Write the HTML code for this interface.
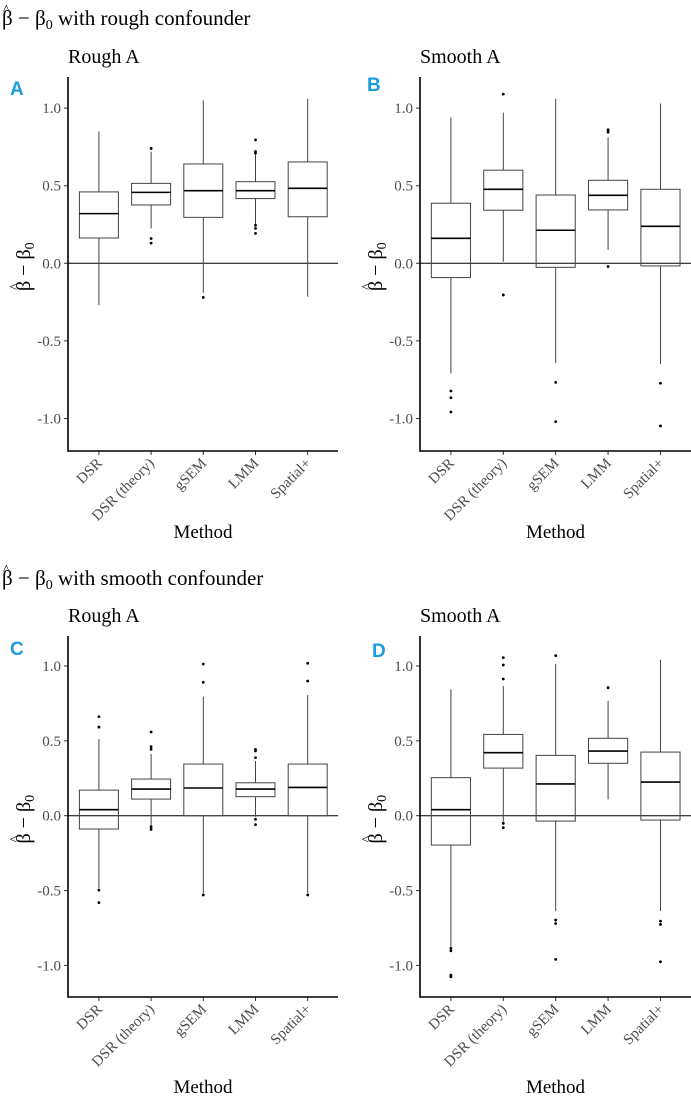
<!DOCTYPE html>
<html><head><meta charset="utf-8"><style>
html,body{margin:0;padding:0;background:#fff;}
svg{display:block;font-family:"Liberation Serif",serif;}
.lbl{font-family:"Liberation Sans",sans-serif;font-weight:bold;fill:#1b9be0;font-size:19px;}
</style></head><body>
<svg id="fig" width="691" height="1101" viewBox="0 0 691 1101" xmlns="http://www.w3.org/2000/svg">
<g>
<text x="3" y="14" font-size="14">^</text>
<text x="2" y="25" font-size="21">β − β<tspan font-size="14" dy="4">0</tspan><tspan dy="-4"> with rough confounder</tspan></text>
</g>
<g>
<text x="3" y="574" font-size="14">^</text>
<text x="2" y="585" font-size="21">β − β<tspan font-size="14" dy="4">0</tspan><tspan dy="-4"> with smooth confounder</tspan></text>
</g>
<g id="panels"></g>
</svg>
<script>
const categories = ["DSR","DSR (theory)","gSEM","LMM","Spatial+"];
const yTicks = [1.0,0.5,0.0,-0.5,-1.0];
const yTickLabels = ["1.0","0.5","0.0","-0.5","-1.0"];
// each stat: [whiskerLow, q1, median, q3, whiskerHigh]
const statsA = [[-0.27,0.163,0.32,0.46,0.85],[0.225,0.376,0.457,0.515,0.72],[-0.19,0.296,0.468,0.64,1.05],[0.236,0.417,0.468,0.526,0.70],[-0.215,0.30,0.483,0.653,1.06]];
const outliersA = [[],[0.74,0.16,0.13],[-0.22],[0.795,0.72,0.71,0.245,0.225,0.193],[]];
const statsB = [[-0.71,-0.092,0.161,0.387,0.94],[0.01,0.342,0.477,0.60,0.971],[-0.644,-0.026,0.213,0.44,1.06],[0.086,0.344,0.438,0.535,0.812],[-0.649,-0.017,0.238,0.477,1.03]];
const outliersB = [[-0.823,-0.866,-0.958],[1.09,-0.204],[-0.767,-1.02],[0.86,0.845,-0.021],[-0.773,-1.048]];
const statsC = [[-0.486,-0.089,0.04,0.171,0.512],[-0.062,0.111,0.178,0.245,0.412],[-0.519,0.0,0.185,0.345,0.795],[-0.007,0.127,0.178,0.22,0.365],[-0.519,0.0,0.189,0.345,0.806]];
const outliersC = [[0.661,0.592,-0.497,-0.581],[0.559,0.461,0.443,-0.073,-0.091],[1.013,0.891,-0.53],[0.443,0.432,0.388,-0.024,-0.06],[1.018,0.9,-0.53]];
const statsD = [[-0.875,-0.196,0.04,0.254,0.844],[-0.04,0.318,0.421,0.543,0.866],[-0.637,-0.036,0.212,0.403,1.013],[0.109,0.35,0.432,0.517,0.768],[-0.637,-0.029,0.225,0.425,1.042]];
const outliersD = [[-0.886,-0.902,-1.065,-1.076],[1.056,1.007,0.913,-0.051,-0.08],[1.069,-0.697,-0.72,-0.96],[0.855],[-0.704,-0.726,-0.976]];

const NS="http://www.w3.org/2000/svg";
const root=document.getElementById('panels');
function mk(tag,attrs,parent,txt){const e=document.createElementNS(NS,tag);for(const k in attrs)e.setAttribute(k,attrs[k]);if(txt!==undefined)e.textContent=txt;parent.appendChild(e);return e;}

const panels=[
 {id:'a',letter:'A',title:'Rough A',ax:68,right:338,top:77,bottom:451,zero:263.3,unit:155.2,lx:10,ly:95,stats:statsA,out:outliersA,methodY:538},
 {id:'b',letter:'B',title:'Smooth A',ax:420,right:691,top:77,bottom:451,zero:263.3,unit:155.2,lx:367,ly:91,stats:statsB,out:outliersB,methodY:538},
 {id:'c',letter:'C',title:'Rough A',ax:68,right:338,top:636,bottom:997,zero:815.7,unit:149.7,lx:10,ly:655,stats:statsC,out:outliersC,methodY:1093},
 {id:'d',letter:'D',title:'Smooth A',ax:420,right:691,top:636,bottom:997,zero:815.7,unit:149.7,lx:372,ly:657,stats:statsD,out:outliersD,methodY:1093}
];

panels.forEach(p=>{
 const g=mk('g',{},root);
 
 
 const y=v=>p.zero-v*p.unit;
 const step=52.2;
 const x=i=>p.ax+30.9+i*step*(p.right-p.ax)/270;
 const bw=39*(p.right-p.ax)/270;
 const t=mk('text',{x:p.ax,y:p.top-14,'font-size':20},g,p.title);
 
 
 const l=mk('text',{x:p.lx,y:p.ly,class:'lbl'},g,p.letter);
 
 
 const zl=mk('line',{x1:p.ax,x2:p.right,y1:y(0),y2:y(0),stroke:'#000','stroke-width':1},g);
 
 
 yTicks.forEach((v,i)=>{
  mk('line',{x1:p.ax-4,x2:p.ax,y1:y(v),y2:y(v),stroke:'#333','stroke-width':1},g);
  const tl=mk('text',{x:p.ax-7,y:y(v)+5,'font-size':15,'text-anchor':'end',fill:'#4d4d4d'},g,yTickLabels[i]);
  
  
 });
 const cy=(p.top+p.bottom)/2;
 const yg=mk('g',{transform:`translate(${p.ax-38},${cy}) rotate(-90)`},g);
 
 
 const yt=mk('text',{x:-27,y:0,'font-size':20},yg);
 yt.innerHTML='β − β<tspan font-size="14" dy="4">0</tspan>';
 mk('text',{x:-26,y:-11,'font-size':14},yg,'^');
 categories.forEach((c,i)=>{
  const s=p.stats[i];const cx=x(i);
  const bg=mk('g',{},g);
  
  
  mk('line',{x1:cx,x2:cx,y1:y(s[4]),y2:y(s[3]),stroke:'#444','stroke-width':1},bg);
  mk('line',{x1:cx,x2:cx,y1:y(s[1]),y2:y(s[0]),stroke:'#444','stroke-width':1},bg);
  mk('rect',{x:cx-bw/2,y:y(s[3]),width:bw,height:y(s[1])-y(s[3]),fill:'none',stroke:'#444','stroke-width':1},bg);
  mk('line',{x1:cx-bw/2,x2:cx+bw/2,y1:y(s[2]),y2:y(s[2]),stroke:'#000','stroke-width':1.6},bg);
  p.out[i].forEach(v=>{
   const o=mk('circle',{cx:cx,cy:y(v),r:1.4,fill:'#000'},bg);
   
   
  });
  mk('line',{x1:cx,x2:cx,y1:p.bottom,y2:p.bottom+4,stroke:'#333','stroke-width':1},g);
  const xl=mk('text',{x:0,y:0,'font-size':15,'text-anchor':'end',fill:'#4d4d4d',transform:`translate(${cx+4},${p.bottom+13}) rotate(-45)`},g,c);
  
  
 });
 const axl=mk('path',{d:`M${p.ax},${p.top} L${p.ax},${p.bottom} L${p.right},${p.bottom}`,fill:'none',stroke:'#000','stroke-width':1.6},g);
 
 
 const mt=mk('text',{x:(p.ax+p.right)/2,y:p.methodY,'font-size':19,'text-anchor':'middle'},g,'Method');
 
 
});
</script>
</body></html>
